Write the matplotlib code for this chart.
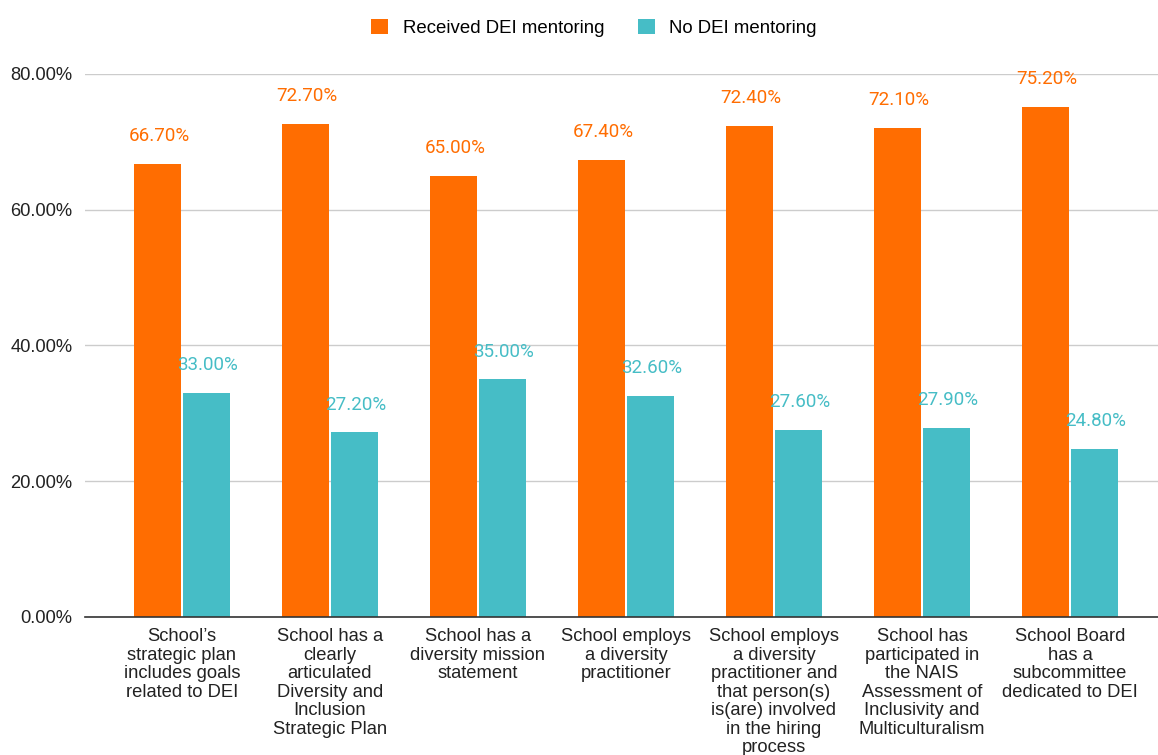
import matplotlib
matplotlib.use("Agg")
import matplotlib.pyplot as plt
import numpy as np

# Chart data
categories = [
    "School\u2019s\nstrategic plan\nincludes goals\nrelated to DEI",
    "School has a\nclearly\narticulated\nDiversity and\nInclusion\nStrategic Plan",
    "School has a\ndiversity mission\nstatement",
    "School employs\na diversity\npractitioner",
    "School employs\na diversity\npractitioner and\nthat person(s)\nis(are) involved\nin the hiring\nprocess",
    "School has\nparticipated in\nthe NAIS\nAssessment of\nInclusivity and\nMulticulturalism",
    "School Board\nhas a\nsubcommittee\ndedicated to DEI",
]
received = [66.7, 72.7, 65.0, 67.4, 72.4, 72.1, 75.2]
no_mentoring = [33.0, 27.2, 35.0, 32.6, 27.6, 27.9, 24.8]
series_names = ["Received DEI mentoring", "No DEI mentoring"]
y_ticks = [0, 20, 40, 60, 80]

ORANGE = "#FF6D01"
TEAL = "#46BDC6"

plt.rcParams["font.family"] = ["Liberation Sans", "DejaVu Sans"]

fig = plt.figure(figsize=(11.58, 7.55), dpi=100)
ax = fig.add_axes([0.0734, 0.1828, 0.9266, 0.7192])

x = np.arange(len(categories))
w = 0.318
b1 = ax.bar(x - w / 2 - 0.004, received, w, color=ORANGE, label=series_names[0], zorder=3)
b2 = ax.bar(x + w / 2 + 0.004, no_mentoring, w, color=TEAL, label=series_names[1], zorder=3)

# value labels above bars
for bars, vals, col in [(b1, received, ORANGE), (b2, no_mentoring, TEAL)]:
    for rect, v in zip(bars, vals):
        ax.annotate(f"{v:.2f}%", (rect.get_x() + rect.get_width() / 2, v),
                    xytext=(1, 20), textcoords="offset points",
                    ha="center", va="center", color=col, fontsize=13.5,
                    family=["Roboto", "DejaVu Sans"], annotation_clip=False)

ax.set_xlim(-0.655, 6.595)
ax.set_ylim(0, 80)
ax.set_yticks(y_ticks)
ax.set_yticklabels([f"{t:.2f}%" for t in y_ticks], fontsize=13.2, color="#222222")
ax.set_xticks(x)
ax.set_xticklabels(categories, fontsize=13.2, color="#222222", linespacing=1.12)
ax.tick_params(axis="both", length=0)
ax.tick_params(axis="x", pad=8)
ax.tick_params(axis="y", pad=9)

ax.grid(axis="y", color="#CCCCCC", linewidth=1, zorder=0)
for s in ["top", "right", "left"]:
    ax.spines[s].set_visible(False)
ax.spines["bottom"].set_color("#333333")
ax.spines["bottom"].set_linewidth(1.2)
ax.spines["bottom"].set_zorder(4)

fig.legend(handles=[b1, b2], labels=series_names, loc="upper center",
           bbox_to_anchor=(0.513, 0.997), ncol=2, frameon=False, fontsize=13.4,
           handlelength=0.9, handleheight=0.9, columnspacing=1.8, handletextpad=0.8)

fig.savefig("out.png", dpi=100)
